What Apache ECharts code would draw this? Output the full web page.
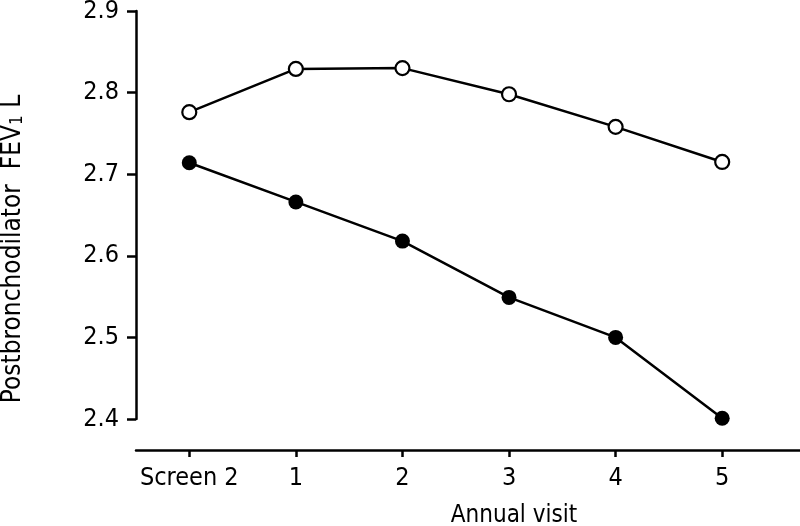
<!DOCTYPE html>
<html>
<head>
<meta charset="utf-8">
<script src="https://cdn.jsdelivr.net/npm/echarts@6/dist/echarts.min.js"></script>
<style>
html, body { margin: 0; padding: 0; background: #fff; }
#main { width: 800px; height: 526px; }
</style>
</head>
<body>
<div id="main"></div>
<script>
var FONT = "'DejaVu Sans Condensed', 'Liberation Sans', Arial, sans-serif";

// visits on the x axis
var visitIdx = [0, 1, 2, 3, 4, 5];
var visitLabels = ['Screen 2', '1', '2', '3', '4', '5'];
// postbronchodilator FEV1 (L)
var openVals = [2.776, 2.829, 2.830, 2.798, 2.758, 2.715];
var filledVals = [2.714, 2.666, 2.618, 2.549, 2.500, 2.401];
var yTicks = [2.4, 2.5, 2.6, 2.7, 2.8, 2.9];

function pairs(vals) {
	return visitIdx.map(function (x, i) { return [x, vals[i]]; });
}

var myChart = echarts.init(document.getElementById('main'));
var line = { color: '#000', width: 2.5 };

var option = {
	animation: false,
	backgroundColor: '#fff',
	grid: { left: 136, right: 0, top: 11, bottom: 107, outerBoundsMode: 'none' },
	xAxis: {
		type: 'value',
		min: -0.5,
		max: 5.73,
		offset: 31,
		splitLine: { show: false },
		axisLine: { show: true, onZero: false, lineStyle: line },
		axisTick: { show: true, length: 7, lineStyle: line, customValues: visitIdx },
		axisLabel: {
			customValues: visitIdx,
			formatter: function (v) { return visitLabels[Math.round(v)]; },
			color: '#000', fontFamily: FONT, fontSize: 25, margin: 16
		},
		name: 'Annual visit',
		nameLocation: 'middle',
		nameGap: 54,
		nameTextStyle: { color: '#000', fontFamily: FONT, fontSize: 24, padding: [0, 0, 0, 92] }
	},
	yAxis: {
		type: 'value',
		min: yTicks[0],
		max: yTicks[yTicks.length - 1],
		interval: 0.1,
		splitLine: { show: false },
		axisLine: { show: true, onZero: false, lineStyle: line },
		axisTick: { show: true, length: 9, lineStyle: line },
		axisLabel: {
			formatter: function (v) { return v.toFixed(1); },
			color: '#000', fontFamily: FONT, fontSize: 25, margin: 17
		},
		name: 'Postbronchodilator  FEV{s|1} L',
		nameLocation: 'middle',
		nameGap: 110,
		nameTextStyle: {
			color: '#000', fontFamily: FONT, fontSize: 26, padding: [0, 68, 0, 0],
			rich: { s: { fontFamily: FONT, fontSize: 17, color: '#000', verticalAlign: 'bottom' } }
		}
	},
	series: [{
		name: 'open',
		type: 'line',
		data: pairs(openVals),
		symbol: 'circle',
		symbolSize: 14,
		lineStyle: line,
		itemStyle: { color: '#fff', borderColor: '#000', borderWidth: 2.2 },
		z: 3
	}, {
		name: 'filled',
		type: 'line',
		data: pairs(filledVals),
		symbol: 'circle',
		symbolSize: 15,
		lineStyle: line,
		itemStyle: { color: '#000', borderColor: '#000', borderWidth: 0 },
		z: 3
	}]
};

myChart.setOption(option);
</script>
</body>
</html>
